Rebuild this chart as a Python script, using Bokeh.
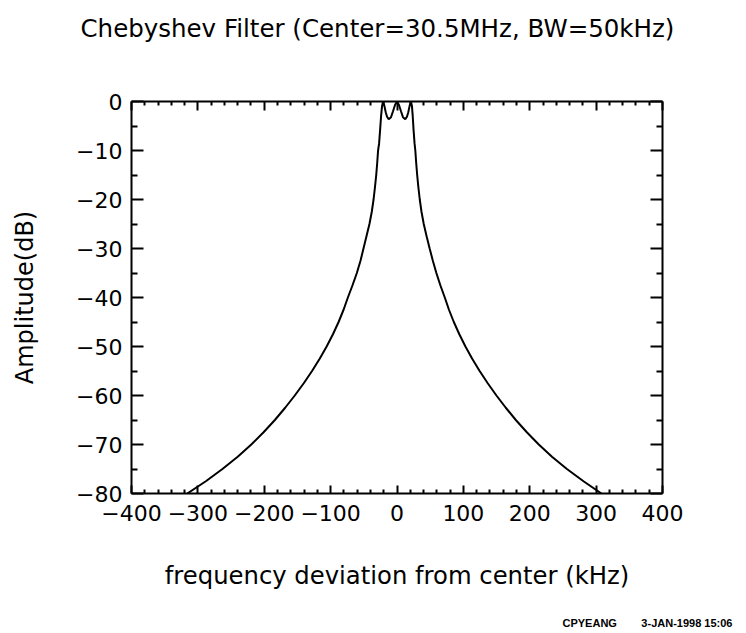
from bokeh.plotting import figure
from bokeh.models import LinearAxis, FixedTicker, Range1d, Title, CustomLabelingPolicy
from bokeh.embed import file_html
from bokeh.resources import INLINE

# ---- data (frequency deviation in kHz, amplitude in dB) ----
freq_khz = [-316, -288, -263, -240, -219.5, -201, -184, -168.5, -154, -140.5, -128, -116.5, -106,
            -96.5, -88, -80.5, -74, -67, -60.5, -55, -50.5, -46, -41.5, -38, -35.3, -33.2, -31.3,
            -29.8, -28.5, -27, -25.5, -24, -22.5, -21, -19, -17, -15, -12.5, -9, -6, -3, 0,
            3, 6, 9, 12.5, 15, 17, 19, 21, 22.5, 23.7, 25, 26.5, 27.6, 28.9, 30.4, 32.2, 34.3,
            36.9, 40.3, 44.6, 49.2, 54, 59.3, 65.3, 72, 78.3, 85.6, 93.9, 103.1, 113.3, 124.5,
            136.7, 149.8, 163.9, 179, 195.6, 213.6, 233.5, 256, 281, 308]
amp_db = [-80, -77.5, -75, -72.5, -70, -67.5, -65, -62.5, -60, -57.5, -55, -52.5, -50,
          -47.5, -45, -42.5, -40, -37.5, -35, -32.5, -30, -27.5, -25, -22.5, -20, -17.5, -15,
          -12.5, -10, -8.6, -5.9, -3.0, -0.9, 0, -0.9, -2.2, -3.1, -3.6, -3.2, -2.0, -0.7, 0,
          -0.7, -2.0, -3.2, -3.6, -3.1, -2.2, -0.9, 0, -0.9, -3.0, -5.9, -8.6, -10, -12.5, -15, -17.5, -20,
          -22.5, -25, -27.5, -30, -32.5, -35, -37.5, -40, -42.5, -45, -47.5, -50, -52.5, -55,
          -57.5, -60, -62.5, -65, -67.5, -70, -72.5, -75, -77.5, -80]

x_ticks = [-400, -300, -200, -100, 0, 100, 200, 300, 400]
x_tick_labels = ["\u2212400", "\u2212300", "\u2212200", "\u2212100", "0", "100", "200", "300", "400"]
x_minor_step = 20
y_ticks = [-80, -70, -60, -50, -40, -30, -20, -10, 0]
y_tick_labels = ["\u221280", "\u221270", "\u221260", "\u221250", "\u221240", "\u221230", "\u221220", "\u221210", "0"]
y_minor_step = 5

title_text = "Chebyshev Filter (Center=30.5MHz, BW=50kHz)"
x_label_text = "frequency deviation from center (kHz)"
y_label_text = "Amplitude(dB)"
footer_user = "CPYEANG"
footer_date = "3-JAN-1998 15:06"

FONT = "DejaVu Sans"

x_minor = [v for v in range(x_ticks[0], x_ticks[-1] + 1, x_minor_step) if v not in x_ticks]
y_minor = [v for v in range(y_ticks[0], y_ticks[-1] + 1, y_minor_step) if v not in y_ticks]

p = figure(width=746, height=633, x_range=Range1d(-400, 400), y_range=Range1d(-80, 0),
           output_backend="svg", toolbar_location=None, x_axis_location=None, y_axis_location=None,
           min_border_left=131, min_border_right=84, min_border_top=101, min_border_bottom=140)
p.background_fill_color = "white"
p.border_fill_color = "white"
p.outline_line_color = None
p.xgrid.visible = False
p.ygrid.visible = False


def style_axis(ax, ticks, minor, labels, major_len, minor_len, show_labels):
    ax.ticker = FixedTicker(ticks=ticks, minor_ticks=minor)
    ax.major_label_overrides = {t: l for t, l in zip(ticks, labels)}
    ax.axis_line_color = "black"
    ax.axis_line_width = 2
    ax.major_tick_line_color = "black"
    ax.major_tick_line_width = 2
    ax.minor_tick_line_color = "black"
    ax.minor_tick_line_width = 2
    ax.major_tick_in = major_len
    ax.major_tick_out = 0
    ax.minor_tick_in = minor_len
    ax.minor_tick_out = 0
    ax.major_label_text_font = FONT
    ax.major_label_text_font_size = "22px"
    ax.major_label_text_color = "black"
    ax.axis_label_text_font = FONT
    ax.axis_label_text_font_size = "24px"
    ax.axis_label_text_font_style = "normal"
    ax.axis_label_text_color = "black"
    if not show_labels:
        ax.major_label_policy = CustomLabelingPolicy(code="")
        ax.major_label_standoff = 0


xb = LinearAxis(axis_label=x_label_text)
style_axis(xb, x_ticks, x_minor, x_tick_labels, 8, 4, True)
xb.major_label_standoff = 11
xb.axis_label_standoff = 37
xb.axis_label_text_font_size = "24.3px"
xt = LinearAxis()
style_axis(xt, x_ticks, x_minor, x_tick_labels, 9, 4, False)
xt.major_label_standoff = 29
yl = LinearAxis(axis_label=y_label_text)
style_axis(yl, y_ticks, y_minor, y_tick_labels, 12, 6, True)
yl.major_label_standoff = 9
yl.axis_label_standoff = 34
yr = LinearAxis()
style_axis(yr, y_ticks, y_minor, y_tick_labels, 12, 6, False)

# invisible spacer below the x axis (no line, no ticks, no labels) to push the footer down
spacer = LinearAxis()
style_axis(spacer, x_ticks, x_minor, x_tick_labels, 0, 0, False)
spacer.axis_line_color = None
spacer.major_tick_line_color = None
spacer.minor_tick_line_color = None

p.add_layout(xb, "below")
p.add_layout(spacer, "below")
p.add_layout(xt, "above")
p.add_layout(yl, "left")
p.add_layout(yr, "right")

p.line(freq_khz, amp_db, line_color="black", line_width=2)

p.title.text = title_text
p.title.text_font = FONT
p.title.text_font_size = "24.5px"
p.title.text_font_style = "normal"
p.title.text_color = "black"
p.title.align = "left"
p.title.offset = -51
p.title.standoff = 22

gap = "\u00a0" * 8
footer = Title(text=footer_user + gap + footer_date, text_font="Liberation Sans", text_font_size="11px",
               text_font_style="bold", text_color="black", align="left", offset=431, standoff=6)
p.add_layout(footer, "below")

open("out.html", "w").write(file_html(p, INLINE))
